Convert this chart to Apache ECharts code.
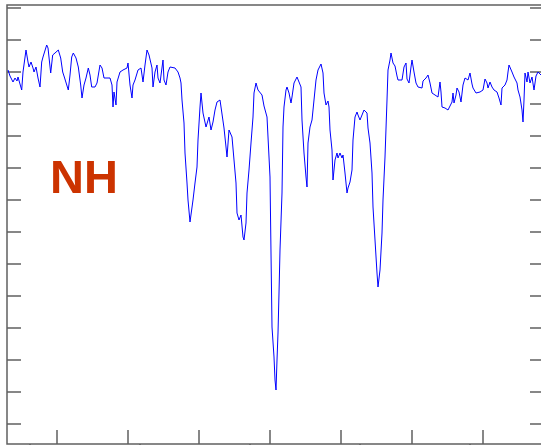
<!DOCTYPE html>
<html>
<head>
<meta charset="utf-8">
<script src="https://cdn.jsdelivr.net/npm/echarts@6/dist/echarts.min.js"></script>
<style>
  html, body { margin: 0; padding: 0; background: #ffffff; }
  #chart { width: 541px; height: 445px; }
</style>
</head>
<body>
<div id="chart"></div>
<script>
// Spectrum channels (x) and intensities (y)
const channel = [
  1, 3, 6, 8, 10, 11, 13, 14.7, 16, 19, 21, 22, 24, 26, 27, 29, 31, 33, 34.7, 36,
  39.7, 41, 43.7, 45.7, 48, 51.3, 53.7, 55.7, 57.3, 59, 61.3, 63, 64.7, 66.3, 69, 71.3, 73.7, 75, 77, 79,
  81.3, 83, 84.7, 88, 90, 93, 95, 97, 103, 105, 106, 107, 109, 110, 113, 116, 120, 121, 123, 125,
  126, 128, 131, 134, 136, 138, 140, 142, 145, 146, 148, 150, 151, 153, 156, 157, 159, 161, 163, 168,
  171, 173, 174, 175, 177, 178, 180, 181, 183, 185, 186, 188, 190, 191, 193, 194, 196, 199, 201, 202,
  204, 206, 208, 210, 213, 215, 217, 219, 220, 222, 224, 225, 227, 229, 230, 232, 234, 236, 237, 239,
  240, 242, 244, 246, 247, 249, 251, 253, 255, 257, 260, 261, 263, 264, 265, 267, 268, 269, 270, 271,
  272, 273, 275, 276, 277, 279, 280, 282, 284, 285, 287, 290, 292, 294, 295, 297, 299, 300, 301, 303,
  305, 307, 309, 311, 314, 316, 317, 319, 321, 322, 323, 325, 326, 328, 330, 331, 333, 335, 336, 338,
  340, 341, 343, 345, 346, 348, 350, 351, 353, 355, 357, 360, 361, 363, 365, 366, 368, 370, 371, 373,
  375, 376, 378, 380, 381, 383, 384, 386, 388, 390, 391, 393, 395, 397, 399, 400, 402, 404, 405, 407,
  409, 411, 413, 415, 416, 419, 421, 423, 425, 428, 431, 433, 434, 435, 436, 438, 441, 443, 445, 446,
  447, 449, 450, 452, 454, 456, 458, 461, 463, 465, 466, 469, 471, 473, 475, 476, 478, 480, 481, 483,
  485, 487, 490, 492, 494, 495, 498, 500, 501, 502, 505, 507, 510, 511, 513, 515, 516, 517, 518, 520,
  521, 523, 525, 527, 529, 531, 533, 534
];
const intensity = [
  3.74, 3.68, 3.62, 3.66, 3.63, 3.67, 3.66, 3.54, 3.72, 3.94, 3.82, 3.77, 3.82, 3.76, 3.72, 3.77, 3.66, 3.57, 3.82, 3.87,
  3.99, 3.96, 3.71, 3.89, 3.91, 3.94, 3.86, 3.72, 3.67, 3.66, 3.54, 3.69, 3.87, 3.91, 3.86, 3.77, 3.59, 3.46, 3.59, 3.66,
  3.76, 3.69, 3.57, 3.57, 3.61, 3.79, 3.76, 3.66, 3.66, 3.59, 3.37, 3.52, 3.39, 3.62, 3.72, 3.74, 3.76, 3.81, 3.59, 3.46,
  3.59, 3.64, 3.74, 3.76, 3.62, 3.79, 3.94, 3.89, 3.76, 3.57, 3.72, 3.79, 3.66, 3.61, 3.84, 3.64, 3.59, 3.72, 3.77, 3.76,
  3.72, 3.66, 3.61, 3.44, 3.21, 2.91, 2.61, 2.44, 2.22, 2.24, 2.44, 2.61, 2.77, 3.04, 3.37, 3.51, 3.31, 3.17, 3.16, 3.27,
  3.14, 3.22, 3.34, 3.42, 3.44, 3.42, 3.16, 2.97, 2.87, 3.14, 3.16, 3.07, 2.84, 2.61, 2.31, 2.24, 2.29, 2.07, 2.04, 2.21,
  2.51, 2.74, 3.01, 3.27, 3.51, 3.61, 3.54, 3.54, 3.49, 3.38, 3.27, 3.07, 2.67, 1.91, 1.17, 0.87, 0.64, 0.54, 0.84, 1.11,
  1.51, 1.94, 2.51, 3.17, 3.37, 3.54, 3.57, 3.51, 3.41, 3.47, 3.61, 3.67, 3.67, 3.57, 3.24, 2.91, 2.67, 2.57, 3.01, 3.17,
  3.24, 3.44, 3.64, 3.74, 3.80, 3.71, 3.51, 3.39, 3.43, 3.37, 3.14, 2.94, 2.64, 2.84, 2.91, 2.86, 2.91, 2.86, 2.89, 2.71,
  2.51, 2.56, 2.62, 2.74, 3.04, 3.27, 3.32, 3.29, 3.24, 3.29, 3.34, 3.31, 3.16, 3.01, 2.71, 2.37, 2.04, 1.71, 1.57, 1.74,
  2.11, 2.44, 2.87, 3.44, 3.74, 3.84, 3.91, 3.81, 3.78, 3.68, 3.64, 3.62, 3.64, 3.77, 3.81, 3.65, 3.61, 3.77, 3.84, 3.72,
  3.61, 3.57, 3.59, 3.56, 3.63, 3.66, 3.69, 3.61, 3.51, 3.49, 3.47, 3.62, 3.52, 3.37, 3.39, 3.36, 3.34, 3.32, 3.42, 3.51,
  3.41, 3.49, 3.56, 3.52, 3.42, 3.59, 3.66, 3.64, 3.71, 3.60, 3.56, 3.51, 3.52, 3.52, 3.51, 3.54, 3.65, 3.61, 3.56, 3.62,
  3.57, 3.54, 3.52, 3.46, 3.39, 3.56, 3.59, 3.64, 3.72, 3.79, 3.72, 3.67, 3.61, 3.54, 3.47, 3.34, 3.22, 3.44, 3.71, 3.62,
  3.72, 3.61, 3.67, 3.54, 3.68, 3.72, 3.71, 3.69
];
const label = 'NH';

const frameColor = '#606060';
const tickStyle = { color: frameColor, width: 1.5 };

const chart = echarts.init(document.getElementById('chart'), null, { renderer: 'canvas' });

const hiddenAxis = (gridIndex) => ({
  type: 'value', gridIndex: gridIndex, min: 0, max: 1, show: false
});
const tickAxis = (gridIndex, position, max) => ({
  type: 'value', gridIndex: gridIndex, position: position, min: 0, max: max, interval: 1,
  axisLine: { show: false },
  axisTick: { show: true, inside: true, length: 14, lineStyle: tickStyle },
  axisLabel: { show: false },
  splitLine: { show: false }
});

const option = {
  animation: false,
  backgroundColor: '#ffffff',
  grid: [
    { left: 7, top: 5, width: 537, height: 439, show: true, borderColor: frameColor, borderWidth: 1.5,
      containLabel: false, outerBoundsMode: 'none' },
    { left: 7, top: 8, width: 537, height: 416, containLabel: false, outerBoundsMode: 'none' },
    { left: 56.7, top: 5, width: 425.6, height: 439, containLabel: false, outerBoundsMode: 'none' },
    { left: 29.3, top: 5, width: 440.7, height: 439, containLabel: false, outerBoundsMode: 'none' }
  ],
  xAxis: [
    { type: 'value', gridIndex: 0, min: 0, max: 537, show: false },
    hiddenAxis(1),
    tickAxis(2, 'bottom', 6),
    tickAxis(3, 'top', 4)
  ],
  yAxis: [
    { type: 'value', gridIndex: 0, min: 0, max: 4.39, show: false },
    tickAxis(1, 'left', 13),
    tickAxis(1, 'right', 13),
    hiddenAxis(2),
    hiddenAxis(3)
  ],
  series: [{
    type: 'line',
    xAxisIndex: 0,
    yAxisIndex: 0,
    data: channel.map((c, i) => [c, intensity[i]]),
    showSymbol: false,
    symbol: 'none',
    lineStyle: { color: '#0000ff', width: 1 },
    silent: true
  }],
  graphic: [{
    type: 'text',
    x: 50,
    y: 180,
    style: {
      text: label,
      fill: '#cc3300',
      font: 'bold 47px "Liberation Sans", Arial, sans-serif',
      align: 'left',
      verticalAlign: 'middle'
    }
  }]
};

chart.setOption(option);
</script>
</body>
</html>
